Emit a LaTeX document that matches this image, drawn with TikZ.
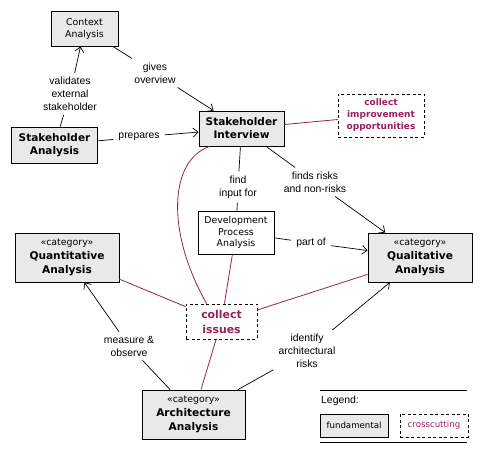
\documentclass[tikz,border=0pt]{standalone}
\usepackage{fontspec}
\setmainfont{Liberation Sans}
\newfontfamily\nf{DejaVu Sans}
\usetikzlibrary{arrows.meta}
\definecolor{boxgray}{RGB}{233,233,233}
\definecolor{purp}{RGB}{155,30,90}
\tikzset{
  box/.style={draw, line width=0.9pt, fill=boxgray, inner sep=0pt, align=center},
  plainbox/.style={draw, line width=0.9pt, fill=white, inner sep=0pt, align=center},
  crossbox/.style={draw, line width=0.8pt, dash pattern=on 3pt off 2.5pt, fill=white, inner sep=0pt, align=center, text=purp},
  lbl/.style={font=\fontsize{10.4}{13}\selectfont, align=center, inner xsep=5pt, inner ysep=4pt},
  conn/.style={line width=0.7pt, black},
  arr/.style={conn, -{Straight Barb[length=5pt,width=9pt]}},
  pline/.style={line width=0.8pt, purp},
  regfont/.style={font=\nf\fontsize{9.4}{12}\selectfont},
  boldfont/.style={font=\nf\bfseries\fontsize{10.5}{13}\selectfont},
  catfont/.style={font=\nf\bfseries\fontsize{10.6}{14}\selectfont},
}
\begin{document}
\begin{tikzpicture}[x=1pt,y=-1pt]
\useasboundingbox (0,0) rectangle (483,454);
% nodes
\node[box, regfont, minimum width=67pt, minimum height=35pt] (ctx) at (84.5,28.5) {Context\\Analysis};
\node[box, boldfont, minimum width=86pt, minimum height=36pt] (sta) at (54.5,145) {Stakeholder\\Analysis};
\node[box, boldfont, minimum width=85pt, minimum height=35pt] (sti) at (241.5,128.5) {Stakeholder\\Interview};
\node[crossbox, font=\nf\bfseries\fontsize{9}{12}\selectfont, minimum width=86pt, minimum height=43pt] (imp) at (381,115.5) {collect\\improvement\\opportunities};
\node[plainbox, regfont, font=\nf\fontsize{9.4}{11.5}\selectfont, minimum width=76pt, minimum height=43pt] (dev) at (236,232.5) {Development\\Process\\Analysis};
\node[box, catfont, minimum width=104pt, minimum height=49pt] (qua) at (67,257.5) {{\mdseries\fontsize{9.4}{14}\selectfont «category»}\\Quantitative\\Analysis};
\node[box, catfont, minimum width=104pt, minimum height=49pt] (qual) at (420,257.5) {{\mdseries\fontsize{9.4}{14}\selectfont «category»}\\Qualitative\\Analysis};
\node[crossbox, font=\nf\bfseries\fontsize{10.9}{15}\selectfont, minimum width=71pt, minimum height=35pt] (iss) at (221.5,321.5) {collect\\issues};
\node[box, catfont, minimum width=103pt, minimum height=49pt] (arch) at (193.5,414.5) {{\mdseries\fontsize{9.4}{14}\selectfont «category»}\\Architecture\\Analysis};
% labels
\node[lbl] (lval) at (70,94) {validates\\external\\stakeholder};
\node[lbl] (lgiv) at (155,73) {gives\\overview};
\node[lbl] (lpre) at (139,137) {prepares};
\node[lbl] (lfin) at (238,187) {find\\input for};
\node[lbl] (lris) at (315,182) {finds risks\\and non-risks};
\node[lbl] (lpar) at (311,243) {part of};
\node[lbl] (lmea) at (129,346) {measure \&\\observe};
\node[lbl] (lide) at (307,351) {identify\\architectural\\risks};
% purple connectors
\draw[pline] (sti) -- (imp);
\draw[pline] (qua) -- (iss);
\draw[pline] (qual) -- (iss);
\draw[pline] (dev) -- (iss);
\draw[pline] (arch) -- (iss);
\draw[pline] ([xshift=11pt]sti.south west) .. controls (170,160) and (165,230) .. ([xshift=21pt]iss.north west);
% black connectors
\draw[conn] (sta) -- (lval); \draw[arr] (lval) -- (ctx);
\draw[conn] (ctx) -- (lgiv); \draw[arr] (lgiv) -- (sti);
\draw[conn] (sta) -- (lpre); \draw[arr] (lpre) -- (sti);
\draw[conn] (sti) -- (lfin); \draw[conn] (lfin) -- (dev);
\draw[conn] (sti) -- (lris); \draw[arr] (lris) -- (qual);
\draw[conn] (dev) -- (lpar); \draw[arr] (lpar) -- (qual);
\draw[conn] (arch) -- (lmea); \draw[arr] (lmea) -- (qua);
\draw[conn] (arch) -- (lide); \draw[arr] (lide) -- (qual);
% legend
\coordinate (lgA) at (320,390);
\coordinate (lgB) at (467,390);
\coordinate (lgC) at (320,442);
\coordinate (lgD) at (467,442);
\draw[line width=0.9pt] (lgA) -- (lgB);
\draw[line width=0.9pt] (lgC) -- (lgD);
\node[anchor=west, inner sep=0pt, font=\fontsize{10.4}{12}\selectfont] (lgt) at (321,401) {Legend:};
\node[box, font=\nf\fontsize{8.6}{10}\selectfont, minimum width=68pt, minimum height=23pt] (lgf) at (354,425.5) {fundamental};
\node[crossbox, font=\nf\fontsize{8.6}{10}\selectfont, minimum width=68pt, minimum height=23pt] (lgc) at (434,425.5) {crosscutting};
\end{tikzpicture}
\end{document}
